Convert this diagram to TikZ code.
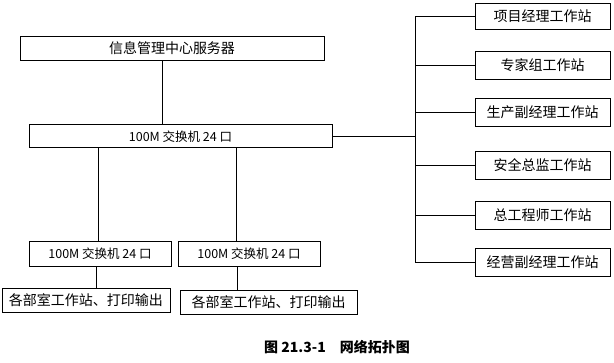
\documentclass[tikz,border=0pt]{standalone}
\usepackage{fontspec}
\setmainfont{Noto Sans CJK SC}
\usepackage{tikz}
\usetikzlibrary{positioning}

\begin{document}
\begin{tikzpicture}[
  x=1pt,y=-1pt,
  line width=0.8pt,
  every node/.style={inner sep=0pt,font=\fontsize{14}{16}\selectfont},
  box/.style={draw,minimum height=24pt,align=center},
  swbox/.style={box,font=\fontsize{12.5}{14}\selectfont},
  ws/.style={box,minimum width=135pt,minimum height=28pt}
]
  \useasboundingbox (0,0) rectangle (614,363);
  % core
  \node[box,minimum width=304pt] (srv) at (172,48) {信息管理中心服务器};
  \node[swbox,minimum width=303pt,minimum height=23pt] (sw) at (180.5,136.3) {100M 交换机 24 口};
  % department switches
  \node[swbox,minimum width=142pt,minimum height=25pt] (sw1) at (100,253.5) {100M 交换机 24 口};
  \node[swbox,minimum width=142pt,minimum height=25pt] (sw2) at (249,253.5) {100M 交换机 24 口};
  \node[box,minimum width=168pt] (dep1) at (86,300) {各部室工作站、打印输出};
  \node[box,minimum width=177pt] (dep2) at (268.5,302) {各部室工作站、打印输出};
  % workstations on the right
  \node[ws,minimum height=26pt] (pm) at (542.5,16) {项目经理工作站};
  \node[ws] (exp) at (542.5,65.5) {专家组工作站};
  \node[ws] (prod) at (542.5,112) {生产副经理工作站};
  \node[ws] (safe) at (542.5,165) {安全总监工作站};
  \node[ws] (eng) at (542.5,215) {总工程师工作站};
  \node[ws] (biz) at (542.5,262.5) {经营副经理工作站};
  \coordinate (bus) at (415,136.3);
  \node[font=\bfseries\fontsize{14}{16}\selectfont] (cap) at (337,347) {图 21.3-1\quad 网络拓扑图};

  \draw ([xshift=-10pt]srv.south) -- ([xshift=-10pt]srv.south |- sw.north);
  \draw (sw.east) -- (bus);
  \foreach \r in {pm,exp,prod,safe,eng,biz}
    {\draw (\r.west) -| (bus);}
  \draw ([xshift=-2pt]sw1.north) -- ([xshift=-2pt]sw1.north |- sw.south);
  \draw ([xshift=-13pt]sw2.north) -- ([xshift=-13pt]sw2.north |- sw.south);
  \draw ([xshift=-4pt]sw1.south) -- ([xshift=-4pt]sw1.south |- dep1.north);
  \draw ([xshift=-12pt]sw2.south) -- ([xshift=-12pt]sw2.south |- dep2.north);
\end{tikzpicture}
\end{document}
